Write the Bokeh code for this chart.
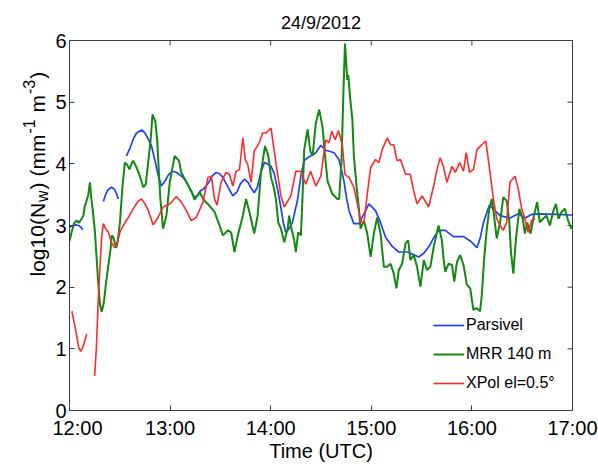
import math
import numpy as np
from bokeh.plotting import figure
from bokeh.layouts import row
from bokeh.models import Range1d, FixedTicker, Label, Legend, LegendItem, ColumnDataSource
from bokeh.embed import file_html
from bokeh.resources import INLINE

nan = float("nan")

# ---------------- data ----------------
title_text = "24/9/2012"
x_label_text = "Time (UTC)"
series_names = ["Parsivel", "MRR 140 m", "XPol el=0.5\u00b0"]
x_tick_hours = [12, 13, 14, 15, 16, 17]
x_tick_labels = ["12:00", "13:00", "14:00", "15:00", "16:00", "17:00"]
y_ticks = [0, 1, 2, 3, 4, 5, 6]

# (minutes after 12:00 UTC, log10(Nw)); nan = gap in record
parsivel_points = [
    (0, 2.97), (2, 3.0), (3.5, 3.01), (5.5, 3.0), (7, 2.97), (7.9, 2.93), (14, nan),
    (20.2, 3.39), (21.5, 3.50), (23, 3.58), (25.1, 3.62), (27, 3.58), (28.3, 3.50), (29.1, 3.43), (31, nan),
    (34, 4.13), (36, 4.25), (38, 4.40), (40, 4.50), (43, 4.55), (45, 4.50), (47, 4.40), (48.9, 4.29),
    (51, 4.05), (53, 3.80), (54.8, 3.64), (57, 3.72), (59, 3.82), (61.4, 3.88), (64, 3.86), (67.7, 3.78),
    (70, 3.70), (72, 3.58), (74.6, 3.46), (76.4, 3.48), (78, 3.56), (80, 3.59), (83.1, 3.70), (85, 3.80),
    (87.5, 3.86), (89.5, 3.84), (91.5, 3.78), (94, 3.65), (97.4, 3.48), (100, 3.55), (102, 3.68),
    (104.3, 3.75), (106.5, 3.70), (108.5, 3.60), (110.2, 3.53), (112, 3.62), (114, 3.85), (116.2, 4.02),
    (118, 4.00), (120.2, 3.96), (122, 3.85), (124.1, 3.59), (126, 3.30), (127.5, 3.05), (129, 2.89),
    (131, 2.95), (133, 3.05), (136.1, 3.43), (138, 3.80), (139.9, 4.05), (142, 4.10), (144, 4.13),
    (146.9, 4.18), (149.9, 4.30), (152.8, 4.22), (155.5, 4.20), (157.8, 4.18), (160.7, 4.07), (162.2, 3.90),
    (163.7, 3.72), (165.2, 3.45), (166.7, 3.24), (169.6, 3.03), (172.6, 3.03), (175.6, 3.19), (178.6, 3.35),
    (182.5, 3.24), (185.5, 3.05), (188.5, 2.81), (192.5, 2.66), (196.4, 2.57), (201.4, 2.57), (205, 2.53),
    (208.3, 2.49), (211.3, 2.55), (214.2, 2.65), (217.2, 2.80), (220.1, 2.92), (224.1, 2.92), (229.0, 2.82),
    (235.0, 2.82), (239, 2.75), (243.0, 2.64), (245, 2.80), (246.9, 3.05), (250.4, 3.33), (253.5, 3.25),
    (256.8, 3.16), (262.7, 3.12), (267.7, 3.19), (271.6, 3.12), (275.6, 3.18), (280.5, 3.19), (290, 3.18),
    (298.3, 3.17), (300, 3.17),
]

mrr_points = [
    (0, 2.75), (1.5, 2.92), (3, 3.05), (4.5, 3.08), (5.5, 3.04), (7, 3.10), (8.3, 3.16), (9, 3.30),
    (10.2, 3.40), (11.2, 3.50), (12.2, 3.70), (13, 3.45), (14, 3.22), (15.2, 2.89), (16.2, 2.46),
    (17.2, 2.04), (18.2, 1.71), (19.2, 1.60), (20.5, 1.75), (21.5, 2.0), (23.2, 2.36), (24.5, 2.62),
    (25.2, 2.84), (26.2, 2.81), (27.2, 2.70), (28.1, 2.64), (29, 2.80), (30.1, 3.05), (31.5, 3.60),
    (33, 4.02), (34.5, 3.98), (35.8, 3.91), (37, 4.00), (38, 4.05), (40, 3.94), (42, 3.80), (44, 3.62),
    (45.5, 3.67), (46.9, 4.02), (48.4, 4.39), (49.5, 4.80), (50.4, 4.74), (51.2, 4.69), (52.3, 4.39),
    (53.2, 3.91), (54.2, 3.43), (55.8, 2.95), (57.8, 3.16), (59.8, 3.70), (62.7, 4.13), (65.3, 4.05),
    (66.7, 3.86), (69.7, 3.70), (72.6, 3.56), (74.6, 3.42), (77.6, 3.54), (80.5, 3.40), (83.5, 3.32),
    (86.5, 3.22), (89.5, 3.00), (91.5, 2.84), (94.4, 2.92), (96.4, 2.89), (98.4, 2.57), (100.4, 2.84),
    (103.4, 3.16), (105.3, 3.43), (107.3, 3.22), (110.2, 2.87), (112.2, 3.16), (114.2, 3.86), (116.6, 4.29),
    (118.6, 4.13), (120.2, 3.78), (121.8, 3.62), (123.1, 3.43), (124.5, 3.05), (126.1, 2.95), (128.1, 2.73),
    (130.1, 2.95), (131.0, 3.16), (132.4, 2.95), (134.0, 2.76), (135.0, 2.57), (136.4, 2.89), (138, 2.84),
    (139, 3.48), (140, 4.23), (142, 4.56), (143.6, 4.21), (145, 4.13), (146.9, 4.66), (148.9, 4.88),
    (150.9, 4.60), (152.8, 4.02), (153.9, 3.72), (156.8, 3.51), (159.8, 3.43), (160.8, 3.43), (162.2, 4.02),
    (163.3, 5.09), (164.3, 5.95), (165.7, 5.36), (166.3, 5.44), (167.3, 5.09), (168.7, 4.72), (169.6, 4.13),
    (171.2, 3.64), (172.6, 3.27), (173.6, 2.95), (175.6, 3.08), (177.6, 2.87), (179.6, 2.49), (181.5, 2.87),
    (183.5, 3.13), (185.5, 2.87), (187.5, 2.33), (189.5, 2.33), (191.5, 2.38), (193.4, 2.22), (195.0, 1.98),
    (196.4, 2.28), (198.4, 2.38), (200.4, 2.71), (202.0, 2.76), (203.3, 2.44), (205.3, 2.52), (207.3, 2.33),
    (209.3, 2.01), (211.3, 2.44), (213.2, 2.28), (215.2, 2.33), (217.2, 2.65), (220.1, 3.00), (222.1, 2.76),
    (223.1, 2.46), (224.1, 2.25), (226.1, 2.38), (228.1, 2.36), (229.5, 2.09), (231.1, 2.41), (233.0, 2.52),
    (235.0, 2.36), (237.0, 2.04), (239.0, 1.98), (240.9, 1.63), (242.9, 1.66), (244.9, 1.61), (245.9, 1.87),
    (247.3, 2.46), (248.9, 2.95), (250.4, 3.27), (251.9, 3.43), (253.2, 3.16), (254.8, 2.79), (256.8, 3.05),
    (258.7, 3.46), (260.8, 3.40), (262.3, 3.05), (263.3, 2.57), (264.7, 2.22), (266.3, 2.79), (268.3, 3.27),
    (270.3, 3.11), (271.6, 2.87), (273.0, 3.05), (275.0, 2.87), (277.0, 3.16), (278.9, 3.38), (280.5, 3.05),
    (282.5, 3.11), (284.5, 3.16), (286.5, 3.00), (288.4, 3.22), (290.1, 3.35), (291.7, 3.11), (293.4, 3.22),
    (295.4, 3.27), (297.4, 3.08), (299.4, 2.95), (300, 3.0),
]

xpol_points = [
    (1.4, 1.61), (3, 1.40), (4.5, 1.18), (5.5, 1.02), (6.7, 0.96), (8, 1.03), (9.3, 1.15), (10.3, 1.24), (12, nan),
    (15.0, 0.56), (16, 1.0), (17.2, 1.82), (18.3, 2.40), (19.2, 2.82), (20.2, 3.03), (21.5, 2.95), (23.2, 2.89),
    (25, 2.72), (27.1, 2.64), (28.5, 2.72), (30.1, 2.89), (32, 3.0), (34, 3.08), (38, 3.27), (41, 3.40),
    (43, 3.43), (45, 3.35), (47, 3.24), (49.9, 3.01), (52.8, 3.13), (55.8, 3.30), (59.8, 3.35), (63.7, 3.47),
    (66.7, 3.38), (69.7, 3.24), (72.6, 3.08), (75.6, 3.13), (79.6, 3.38), (82.6, 3.78), (84.6, 3.80),
    (86.5, 3.43), (88.0, 3.33), (90.4, 3.70), (93.4, 3.86), (95.4, 3.83), (97.4, 3.64), (99.4, 3.88),
    (101.4, 3.91), (103.4, 4.42), (104.8, 4.07), (106.3, 3.99), (108.3, 3.70), (110.2, 4.21), (113.2, 4.34),
    (115.2, 4.50), (117.2, 4.50), (120.2, 4.58), (123.1, 4.02), (126.1, 3.48), (128.1, 3.30), (132.0, 3.48),
    (135.0, 3.88), (137.9, 3.88), (140.9, 3.67), (143.8, 3.88), (146.9, 3.64), (149.9, 3.80), (152.8, 4.39),
    (154.8, 4.34), (156.4, 4.53), (158.4, 4.39), (160.4, 4.54), (162.7, 4.31), (164.3, 3.83), (166.7, 3.78),
    (169.6, 3.62), (171.7, 3.35), (173.6, 3.08), (175.6, 3.03), (177.6, 3.51), (179.6, 3.94), (182.5, 4.07),
    (184.5, 4.02), (186.5, 4.23), (189.5, 4.42), (191.5, 4.31), (193.4, 4.31), (195.4, 4.05), (197.4, 4.07),
    (200.4, 3.83), (203.3, 3.83), (205.3, 3.56), (207.3, 3.35), (210.3, 3.48), (214.2, 3.30), (217.2, 3.64),
    (219.2, 3.91), (221.1, 4.10), (223.1, 3.95), (225.1, 3.70), (228.1, 3.96), (230.1, 3.86), (232.7, 4.02),
    (235.0, 3.88), (236.6, 4.18), (238.6, 3.86), (241.0, 3.91), (243.0, 4.23), (248.3, 4.37), (250.8, 3.86),
    (252.8, 3.43), (254.8, 3.11), (256.8, 3.00), (258.7, 2.92), (260.7, 3.05), (262.7, 3.70), (265.7, 3.80),
    (267.7, 3.59), (269.7, 3.27), (271.6, 3.11), (273.6, 2.89), (275.6, 3.08), (277.6, 3.11),
]

# ---------------- styling ----------------
FONT = "Liberation Sans"
AX = "#3c3c3c"
colors = ["#2040ff", "#108a10", "#ff2a2a"]
widths = [1.7, 2.0, 1.6]


def to_source(points):
    t = np.array([pt[0] for pt in points], dtype=float)
    v = np.array([pt[1] for pt in points], dtype=float)
    return ColumnDataSource(dict(x=12.0 + t / 60.0, y=v))


TOTAL_W, TOTAL_H = 598, 464
LAB_W = 52                      # strip holding the rotated y label
LEFT, RIGHT, TOP, BOTTOM = 16, 26, 40, 51
W = TOTAL_W - LAB_W
H = TOTAL_H

p = figure(width=W, height=H, x_range=Range1d(x_tick_hours[0], x_tick_hours[-1]),
           y_range=Range1d(y_ticks[0], y_ticks[-1]),
           output_backend="svg", toolbar_location=None,
           min_border_left=LEFT, min_border_right=RIGHT, min_border_top=TOP, min_border_bottom=BOTTOM)
p.xgrid.visible = False
p.ygrid.visible = False
p.outline_line_color = AX
p.background_fill_color = "white"
p.border_fill_color = "white"

p.title.text = title_text
p.title.align = "center"
p.title.offset = -4
p.title.text_font = FONT
p.title.text_font_size = "18px"
p.title.text_font_style = "normal"
p.title.text_color = "black"
p.title.standoff = 16

xa = p.xaxis[0]
xa.ticker = FixedTicker(ticks=x_tick_hours)
xa.major_label_overrides = {h: lab for h, lab in zip(x_tick_hours, x_tick_labels)}
xa.axis_label = x_label_text
xa.axis_label_text_font = FONT
xa.axis_label_text_font_size = "20px"
xa.axis_label_text_font_style = "normal"
xa.axis_label_text_color = "black"
xa.axis_label_standoff = -2
ya = p.yaxis[0]
ya.ticker = FixedTicker(ticks=y_ticks)
for ax in (xa, ya):
    ax.major_tick_in = 5
    ax.major_tick_out = 0
    ax.minor_tick_line_color = None
    ax.axis_line_color = AX
    ax.major_tick_line_color = AX
    ax.major_label_text_font = FONT
    ax.major_label_text_font_size = "20px"
    ax.major_label_text_color = "black"
xa.major_label_standoff = 6
ya.major_label_standoff = 3

# inner tick marks on the right and top edges of the box (dashes clipped at the frame edge)
p.scatter(x=[x_tick_hours[-1]] * len(y_ticks), y=y_ticks, marker="dash", size=10,
          line_color=AX, line_width=1)
p.scatter(x=x_tick_hours, y=[y_ticks[-1]] * len(x_tick_hours), marker="dash", size=10, angle=math.pi / 2,
          line_color=AX, line_width=1)

renderers = []
for pts, c, w in zip((parsivel_points, mrr_points, xpol_points), colors, widths):
    r = p.line("x", "y", source=to_source(pts), line_color=c, line_width=w)
    renderers.append(r)

legend = Legend(items=[LegendItem(label=n, renderers=[r]) for n, r in zip(series_names, renderers)],
                location=(364, 14), orientation="vertical",
                label_text_font=FONT, label_text_font_size="16px", label_text_color="black",
                glyph_width=31, glyph_height=26, label_height=26, spacing=3,
                padding=0, margin=0, label_standoff=2,
                border_line_alpha=0, background_fill_alpha=0)
p.add_layout(legend)

# ---------------- y label strip (rotated text with sub/superscripts) ----------------
lab = figure(width=LAB_W, height=H, x_range=Range1d(0, 1), y_range=Range1d(0, 1),
             x_axis_type=None, y_axis_type=None, output_backend="svg", toolbar_location=None,
             min_border=0, outline_line_color=None)
lab.xgrid.visible = False
lab.ygrid.visible = False

char_w = {"l": .222, "o": .556, "g": .556, "1": .556, "0": .556, "(": .333, "N": .722, "w": .722,
          ")": .333, " ": .278, "m": .833, "-": .333, "3": .556}
ylabel_parts = [("log10(N", 0.0, "main"), ("w", 0.0, "sub"), (") (mm", 0.0, "main"), ("-1", 0.0, "sup"),
                ("m", 0.278, "main"), ("-3", 0.0, "sup"), (")", 0.0, "main")]
sizes = {"main": 21, "sub": 16, "sup": 16}
shifts = {"main": 0, "sub": 5, "sup": -9}
base_x = 37
ypos = 134
for txt, lead, kind in ylabel_parts:
    sz = sizes[kind]
    ypos += lead * sizes["main"]
    lab.add_layout(Label(x=base_x + shifts[kind], y=ypos, x_units="screen", y_units="screen", text=txt,
                         angle=math.pi / 2, text_align="left", text_baseline="alphabetic",
                         text_font=FONT, text_font_size=f"{sz}px", text_color="black"))
    ypos += sum(char_w[c] for c in txt) * sz + 1

layout = row(lab, p, spacing=0)
open("out.html", "w").write(file_html(layout, INLINE))
